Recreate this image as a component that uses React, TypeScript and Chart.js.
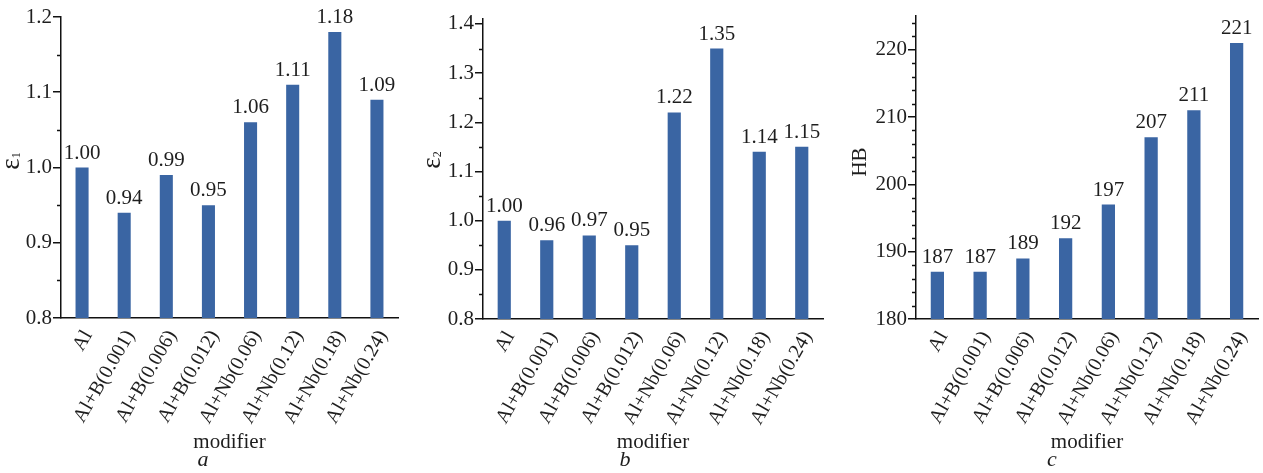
import React, { useEffect, useRef } from 'react';
import { Chart, registerables } from 'chart.js';

Chart.register(...registerables);

const categories = [
  'Al',
  'Al+B(0.001)',
  'Al+B(0.006)',
  'Al+B(0.012)',
  'Al+Nb(0.06)',
  'Al+Nb(0.12)',
  'Al+Nb(0.18)',
  'Al+Nb(0.24)',
];
const epsilon1Values = [1.0, 0.94, 0.99, 0.95, 1.06, 1.11, 1.18, 1.09];
const epsilon2Values = [1.0, 0.96, 0.97, 0.95, 1.22, 1.35, 1.14, 1.15];
const hardnessValues = [187, 187, 189, 192, 197, 207, 211, 221];

const epsilon1Ticks = [0.8, 0.9, 1.0, 1.1, 1.2];
const epsilon2Ticks = [0.8, 0.9, 1.0, 1.1, 1.2, 1.3, 1.4];
const hardnessTicks = [180, 190, 200, 210, 220];

const xTitle = 'modifier';

const FONT = "'Liberation Serif', 'Times New Roman', serif";
const BAR_COLOR = '#3a65a3';
const TEXT_COLOR = '#1e1e1e';
const H = 473;

type Panel = {
  values: number[];
  ticks: number[];
  min: number;
  max: number;
  minorStep: number;
  tickDecimals: number;
  valueDecimals: number;
  title: string;
  sub: string;
  caption: string;
  canvasLeft: number;
  width: number;
  plotLeft: number;
  plotRight: number;
  plotTop: number;
  plotBottom: number;
  titleX: number;
  titleY: number;
  captionX: number;
};

const panels: Panel[] = [
  {
    values: epsilon1Values, ticks: epsilon1Ticks, min: 0.8, max: 1.2, minorStep: 0.05,
    tickDecimals: 1, valueDecimals: 2, title: 'ε', sub: '1', caption: 'a',
    canvasLeft: 0, width: 421, plotLeft: 61, plotRight: 398, plotTop: 17, plotBottom: 318,
    titleX: 12, titleY: 161, captionX: 203,
  },
  {
    values: epsilon2Values, ticks: epsilon2Ticks, min: 0.8, max: 1.41, minorStep: 0.05,
    tickDecimals: 1, valueDecimals: 2, title: 'ε', sub: '2', caption: 'b',
    canvasLeft: 421, width: 421, plotLeft: 62, plotRight: 402, plotTop: 19, plotBottom: 319,
    titleX: 12, titleY: 160, captionX: 204,
  },
  {
    values: hardnessValues, ticks: hardnessTicks, min: 180, max: 225, minorStep: 2,
    tickDecimals: 0, valueDecimals: 0, title: 'HB', sub: '', caption: 'c',
    canvasLeft: 842, width: 421, plotLeft: 74, plotRight: 416, plotTop: 16, plotBottom: 319,
    titleX: 18, titleY: 162, captionX: 210,
  },
];

function PanelChart({ p }: { p: Panel }) {
  const ref = useRef<HTMLCanvasElement | null>(null);
  useEffect(() => {
    if (!ref.current) return;
    const overlay = {
      id: 'overlay',
      afterDatasetsDraw(chart: any) {
        const ctx = chart.ctx;
        const meta = chart.getDatasetMeta(0);
        ctx.save();
        ctx.fillStyle = TEXT_COLOR;
        ctx.font = `21px ${FONT}`;
        ctx.textAlign = 'center';
        ctx.textBaseline = 'bottom';
        meta.data.forEach((el: any, i: number) => {
          ctx.fillText(p.values[i].toFixed(p.valueDecimals), el.x, el.y - 4);
        });
        ctx.restore();
      },
      afterDraw(chart: any) {
        const ctx = chart.ctx;
        const y = chart.scales.y;
        const area = chart.chartArea;
        ctx.save();
        // minor ticks
        ctx.strokeStyle = '#111';
        ctx.lineWidth = 1.5;
        const n = Math.round((p.max - p.min) / p.minorStep);
        for (let k = 0; k <= n; k++) {
          const v = p.min + k * p.minorStep;
          if (v > p.max + 1e-9) break;
          const isMajor = p.ticks.some((t) => Math.abs(t - v) < 1e-6);
          if (isMajor) continue;
          const py = Math.round(y.getPixelForValue(v)) + 0.5;
          ctx.beginPath();
          ctx.moveTo(area.left - 4, py);
          ctx.lineTo(area.left, py);
          ctx.stroke();
        }
        // x title
        ctx.fillStyle = TEXT_COLOR;
        ctx.font = `21px ${FONT}`;
        ctx.textAlign = 'center';
        ctx.textBaseline = 'middle';
        ctx.fillText(xTitle, (area.left + area.right) / 2, 442);
        // caption
        ctx.font = `italic 22px ${FONT}`;
        ctx.fillText(p.caption, p.captionX, 460);
        // y title
        ctx.translate(p.titleX, p.titleY);
        ctx.rotate(-Math.PI / 2);
        const mainSize = p.sub ? 27 : 21;
        ctx.font = `${mainSize}px ${FONT}`;
        const wMain = ctx.measureText(p.title).width;
        ctx.font = `12px ${FONT}`;
        const wSub = p.sub ? ctx.measureText(p.sub).width : 0;
        const start = -(wMain + wSub) / 2;
        ctx.textAlign = 'left';
        ctx.font = `${mainSize}px ${FONT}`;
        ctx.fillText(p.title, start, 0);
        if (p.sub) {
          ctx.font = `12px ${FONT}`;
          ctx.fillText(p.sub, start + wMain, 5);
        }
        ctx.restore();
      },
    };
    const chart = new Chart(ref.current, {
      type: 'bar',
      data: {
        labels: categories,
        datasets: [
          {
            data: p.values,
            backgroundColor: BAR_COLOR,
            borderWidth: 0,
            barPercentage: 0.31,
            categoryPercentage: 1,
          },
        ],
      },
      options: {
        responsive: false,
        animation: false,
        devicePixelRatio: 1,
        layout: {
          padding: { left: 0, right: p.width - p.plotRight, top: p.plotTop, bottom: 0 },
        },
        plugins: { legend: { display: false }, tooltip: { enabled: false } },
        scales: {
          x: {
            grid: { display: false, drawTicks: false },
            border: { display: true, color: '#111', width: 1.5 },
            ticks: {
              color: TEXT_COLOR,
              font: { family: FONT, size: 20 },
              minRotation: 60,
              maxRotation: 60,
              autoSkip: false,
              padding: 8,
              labelOffset: 6,
            },
            afterFit(scale: any) {
              scale.height = H - p.plotBottom;
              scale.paddingLeft = 0;
              scale.paddingRight = 0;
            },
          },
          y: {
            min: p.min,
            max: p.max,
            grid: { drawOnChartArea: false, drawTicks: true, tickLength: 8, color: '#111', lineWidth: 1.5 },
            border: { display: true, color: '#111', width: 1.5 },
            ticks: {
              color: TEXT_COLOR,
              font: { family: FONT, size: 21 },
              padding: 1,
              callback: (v: any) => Number(v).toFixed(p.tickDecimals),
            },
            afterBuildTicks(scale: any) {
              scale.ticks = p.ticks.map((v) => ({ value: v }));
            },
            afterFit(scale: any) {
              scale.width = p.plotLeft;
              scale.paddingTop = 0;
              scale.paddingBottom = 0;
            },
          },
        },
      },
      plugins: [overlay],
    } as any);
    return () => chart.destroy();
  }, [p]);
  return (
    <canvas
      ref={ref}
      width={p.width}
      height={H}
      style={{ position: 'absolute', left: p.canvasLeft, top: 0, width: p.width, height: H }}
    />
  );
}

export default function App() {
  return (
    <div style={{ position: 'fixed', left: 0, top: 0, width: 1263, height: H, background: '#fff' }}>
      {panels.map((p, i) => (
        <PanelChart key={i} p={p} />
      ))}
    </div>
  );
}
